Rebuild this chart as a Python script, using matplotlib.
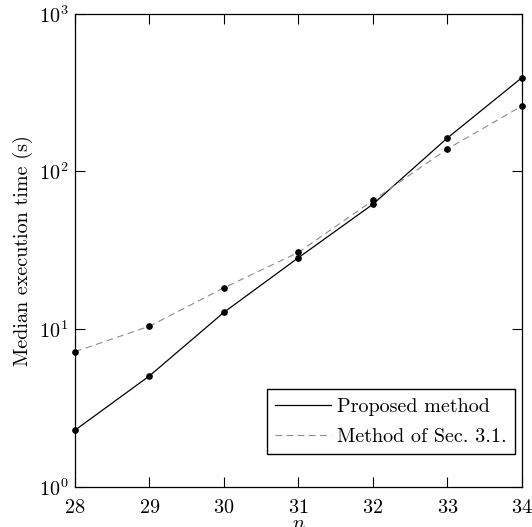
import matplotlib
matplotlib.use("Agg")
import matplotlib.pyplot as plt

plt.rcParams["font.family"] = ["cmr10", "DejaVu Serif"]
plt.rcParams["mathtext.fontset"] = "cm"
plt.rcParams["axes.formatter.use_mathtext"] = True

# Data
n = [28, 29, 30, 31, 32, 33, 34]
proposed = [2.29, 5.06, 12.8, 28.4, 62.0, 163, 393]
sec31 = [7.2, 10.45, 18.3, 30.7, 65.5, 139, 260]

fig = plt.figure(figsize=(5.32, 5.27), dpi=100)
ax = fig.add_axes([0.141, 0.076, 0.840, 0.898])

ax.plot(n, proposed, color="black", linewidth=0.9, label="Proposed method")
ax.plot(n, sec31, color="#8c8c8c", linewidth=0.8, linestyle=(0, (6, 4)),
        label="Method of Sec. 3.1.")
ax.plot(n, proposed, "o", color="black", markersize=3.8, clip_on=False)
ax.plot(n, sec31, "o", color="black", markersize=3.8, clip_on=False)

ax.set_yscale("log")
ax.set_xlim(28, 34)
ax.set_ylim(1, 1000)
ax.set_xticks(n)
ax.minorticks_off()
ax.tick_params(direction="in", length=7, width=0.8, top=True, right=True,
               labelsize=14.5)
ax.tick_params(axis="x", pad=9)
ax.tick_params(axis="y", pad=5)
for s in ax.spines.values():
    s.set_linewidth(0.9)

ax.set_xlabel("$n$", fontsize=14.5, labelpad=-2)
ax.set_ylabel("Median execution time (s)", fontsize=14.5, labelpad=4)

leg = ax.legend(loc="lower right", bbox_to_anchor=(0.984, 0.07),
                fontsize=14.5, fancybox=False, framealpha=1,
                edgecolor="black", handlelength=2.8, borderaxespad=0,
                handletextpad=0.3, borderpad=0.4, labelspacing=0.6)
leg.get_frame().set_linewidth(1.0)

plt.savefig("out.png", dpi=100)
plt.close()
